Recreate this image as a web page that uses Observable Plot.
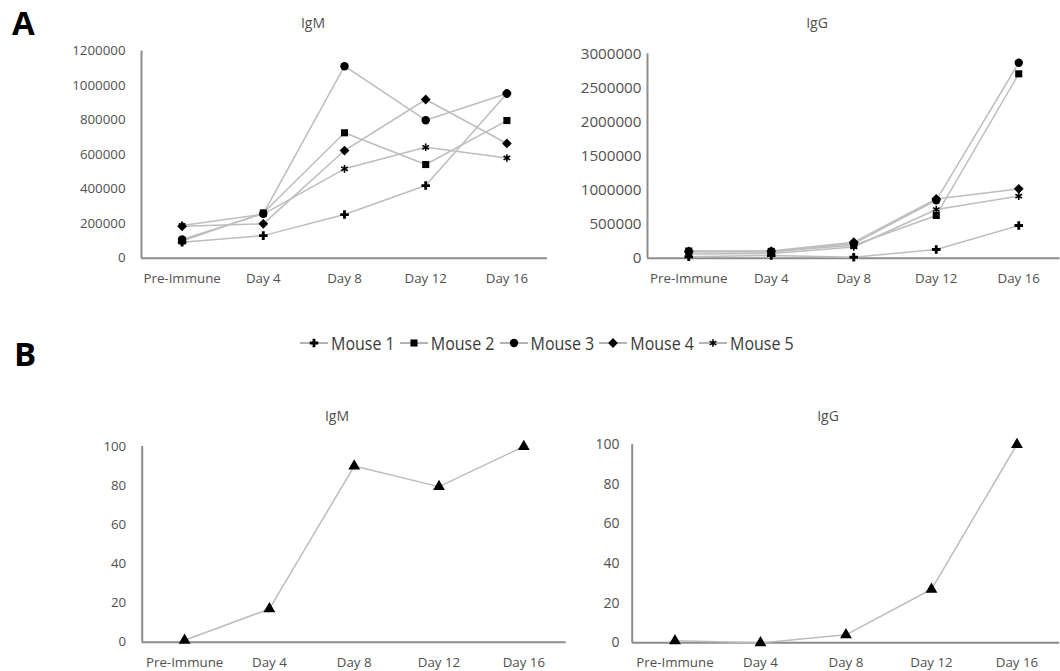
<!DOCTYPE html>
<html><head><meta charset="utf-8">
<script src="https://cdn.jsdelivr.net/npm/d3@7"></script>
<script src="https://cdn.jsdelivr.net/npm/@observablehq/plot@0.6"></script>
<style>
body{margin:0;background:#fff;}
#root{position:relative;width:1060px;height:671px;font-family:"Open Sans",sans-serif;overflow:hidden;background:#fff}
.panel{position:absolute}
.title{position:absolute;transform:translate(-50%,-50%);font-size:14px;color:#505050;white-space:nowrap}
.tag{position:absolute;font-weight:700;font-size:33px;line-height:33px;color:#000}
#legend{position:absolute;left:300px;top:333px;height:20px;display:flex;align-items:center;font-size:16px;color:#3a3a3a;white-space:nowrap}
#legend span{display:inline-block;transform:scaleY(1.15)}
#legend svg{display:block}
</style></head><body><div id="root"></div>
<script>
// ---- data ----
const days = ["Pre-Immune", "Day 4", "Day 8", "Day 12", "Day 16"];
const mice = ["Mouse 1", "Mouse 2", "Mouse 3", "Mouse 4", "Mouse 5"];

// Panel A, IgM titers
const igmMouse1 = [92000, 131000, 253000, 421000, 955000];
const igmMouse2 = [100000, 262000, 727000, 543000, 798000];
const igmMouse3 = [108000, 258000, 1113000, 800000, 955000];
const igmMouse4 = [185000, 199000, 624000, 920000, 665000];
const igmMouse5 = [190000, 255000, 518000, 643000, 581000];

// Panel A, IgG titers
const iggMouse1 = [20000, 40000, 15000, 128000, 480000];
const iggMouse2 = [105000, 100000, 190000, 627000, 2706000];
const iggMouse3 = [95000, 90000, 215000, 850000, 2868000];
const iggMouse4 = [100000, 105000, 235000, 870000, 1018000];
const iggMouse5 = [60000, 70000, 165000, 715000, 910000];

// Panel B, percent
const igmPercent = [1, 17, 90, 79.5, 100];
const iggPercent = [1, 0, 4, 27, 100];

// tick values
const igmTicks = [0, 200000, 400000, 600000, 800000, 1000000, 1200000];
const iggTicks = [0, 500000, 1000000, 1500000, 2000000, 2500000, 3000000];
const pctTicks = [0, 20, 40, 60, 80, 100];

// ---- styling ----
const plotSymbols = ["cross", "square", "circle", "diamond2", "asterisk"];
const d3Symbols = {cross: d3.symbolCross, square: d3.symbolSquare, circle: d3.symbolCircle, diamond2: d3.symbolDiamond2, asterisk: d3.symbolAsterisk, triangle: d3.symbolTriangle};
const symbolR = {cross: 3.6, square: 4, circle: 4.2, diamond2: 4.4, asterisk: 3.6, triangle: 4.4};
const axisColor = "#8c8c8c";
const lineColor = "#bdbdbd";
const root = document.getElementById("root");

function panel(o) {
  const idx = d3.range(days.length);
  const marks = [
    Plot.ruleY([0], {stroke: axisColor, strokeWidth: 2}),
    Plot.ruleX([-0.5], {y1: 0, y2: o.yMax, stroke: axisColor, strokeWidth: 2}),
    Plot.axisY({ticks: o.yTicks, tickSize: 0, tickPadding: o.yPad, tickFormat: d3.format("d"), fontSize: o.yFont, label: null}),
    Plot.axisX({ticks: idx, tickSize: 0, tickPadding: 15, tickFormat: i => days[i], fontSize: 13.3, label: null})
  ];
  o.series.forEach(s => {
    const data = s.values.map((v, i) => ({i, v}));
    marks.push(Plot.line(data, {x: "i", y: "v", stroke: lineColor, strokeWidth: 1.5}));
  });
  o.series.forEach(s => {
    const data = s.values.map((v, i) => ({i, v}));
    const stroked = s.symbol === "asterisk";
    marks.push(Plot.dot(data, {x: "i", y: "v", symbol: s.symbol, r: symbolR[s.symbol],
      fill: stroked ? "none" : "black", stroke: stroked ? "black" : "none", strokeWidth: stroked ? 1.6 : 0}));
  });
  const chart = Plot.plot({
    width: o.width, height: o.height,
    marginLeft: o.mL, marginRight: o.mR, marginTop: o.mT, marginBottom: o.mB,
    x: {domain: [-0.5, days.length - 0.5]},
    y: {domain: [0, o.yMax]},
    style: {background: "transparent", color: "#505050", fontFamily: "'Open Sans', sans-serif", overflow: "visible"},
    marks
  });
  const wrap = document.createElement("div");
  wrap.className = "panel";
  wrap.style.left = o.left + "px"; wrap.style.top = o.top + "px"; wrap.style.width = o.width + "px";
  wrap.appendChild(chart);
  root.appendChild(wrap);
  const t = document.createElement("div");
  t.className = "title"; t.textContent = o.title;
  t.style.left = o.titleX + "px"; t.style.top = o.titleY + "px";
  root.appendChild(t);
}

const igmSeries = [igmMouse1, igmMouse2, igmMouse3, igmMouse4, igmMouse5].map((values, k) => ({values, symbol: plotSymbols[k]}));
const iggSeries = [iggMouse1, iggMouse2, iggMouse3, iggMouse4, iggMouse5].map((values, k) => ({values, symbol: plotSymbols[k]}));

panel({title: "IgM", titleX: 313, titleY: 22, series: igmSeries, yMax: 1200000, yTicks: igmTicks, yPad: 16, yFont: 13.3,
  left: 0, top: 0, width: 560, height: 290, mL: 141, mR: 13, mT: 50.7, mB: 32.3});
panel({title: "IgG", titleX: 817, titleY: 22, series: iggSeries, yMax: 3000000, yTicks: iggTicks, yPad: 6, yFont: 15.2,
  left: 560, top: 0, width: 500, height: 290, mL: 87, mR: 0.5, mT: 53.3, mB: 32.3});
panel({title: "IgM", titleX: 337, titleY: 415, series: [{values: igmPercent, symbol: "triangle"}], yMax: 100, yTicks: pctTicks, yPad: 16, yFont: 13.3,
  left: 0, top: 380, width: 570, height: 291, mL: 141.7, mR: 4.3, mT: 66, mB: 29.3});
panel({title: "IgG", titleX: 828, titleY: 415, series: [{values: iggPercent, symbol: "triangle"}], yMax: 100, yTicks: pctTicks, yPad: 12.7, yFont: 14,
  left: 560, top: 380, width: 500, height: 291, mL: 71.7, mR: 0.8, mT: 64, mB: 28.7});

// panel tags
[["A", 12, 6], ["B", 14, 337]].forEach(([txt, x, y]) => {
  const d = document.createElement("div");
  d.className = "tag"; d.textContent = txt; d.style.left = x + "px"; d.style.top = y + "px";
  root.appendChild(d);
});

// legend
const legend = document.createElement("div");
legend.id = "legend";
mice.forEach((m, k) => {
  const sym = plotSymbols[k];
  const svg = d3.create("svg").attr("width", 28).attr("height", 20);
  svg.append("line").attr("x1", 0).attr("x2", 28).attr("y1", 10).attr("y2", 10).attr("stroke", "#9a9a9a").attr("stroke-width", 1.5);
  const stroked = sym === "asterisk";
  svg.append("path").attr("transform", "translate(14,10)")
    .attr("d", d3.symbol(d3Symbols[sym], Math.PI * symbolR[sym] ** 2)())
    .attr("fill", stroked ? "none" : "black").attr("stroke", stroked ? "black" : "none").attr("stroke-width", 1.6);
  legend.appendChild(svg.node());
  const sp = document.createElement("span");
  sp.textContent = m;
  sp.style.margin = k < mice.length - 1 ? "0 5px 0 3px" : "0 0 0 3px";
  legend.appendChild(sp);
});
root.appendChild(legend);
</script></body></html>
